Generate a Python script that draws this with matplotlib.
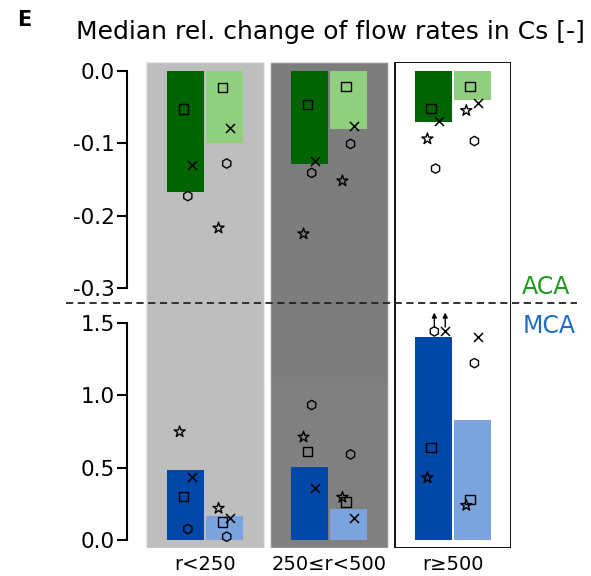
import numpy as np
import matplotlib
matplotlib.use('Agg')
import matplotlib.pyplot as plt
from matplotlib.patches import Rectangle
from matplotlib.lines import Line2D

# data
categories = ['r<250', '250≤r<500', 'r≥500']

aca_dark = [-0.167, -0.129, -0.071]
aca_light = [-0.100, -0.081, -0.040]
mca_dark = [0.481, 0.506, 1.403]
mca_light = [0.164, 0.214, 0.830]

# single markers: star, square, hexagon, cross
aca_dark_star = [np.nan, -0.225, -0.094]
aca_dark_square = [-0.053, -0.047, -0.052]
aca_dark_hex = [-0.173, -0.141, -0.135]
aca_dark_x = [-0.130, -0.124, -0.070]

aca_light_star = [-0.217, -0.152, -0.055]
aca_light_square = [-0.023, -0.022, -0.022]
aca_light_hex = [-0.128, -0.101, -0.097]
aca_light_x = [-0.079, -0.076, -0.044]

mca_dark_star = [0.747, 0.711, 0.430]
mca_dark_square = [0.301, 0.610, 0.637]
mca_dark_hex = [0.076, 0.932, np.nan]
mca_dark_x = [0.437, 0.359, np.nan]

mca_light_star = [0.219, 0.295, 0.239]
mca_light_square = [0.124, 0.262, 0.278]
mca_light_hex = [0.023, 0.591, 1.221]
mca_light_x = [0.154, 0.152, 1.403]

# off-scale markers (r>=500, MCA dark): drawn at the top with arrows
offscale_y = 1.44
offscale_markers = ['h', 'x']

c_dark_green = '#006400'
c_light_green = '#8fcf7d'
c_dark_blue = '#0047a6'
c_light_blue = '#7ba3de'
panel_colors = ['#bebebe', '#808080', 'white']

W, H = 591, 576
fig = plt.figure(figsize=(W / 100, H / 100), dpi=100)

def fx(px):
    return px / W

def fy(py):
    return 1 - py / H

left, right = 127, 511
xlim = (-0.63, 2.47)
x = np.arange(len(categories))
bw = 0.3
off = 0.157

# background panels
bg = fig.add_axes([fx(left), fy(548), fx(right) - fx(left), fy(62) - fy(548)])
bg.set_xlim(xlim)
bg.set_ylim(0, 1)
bg.axis('off')
for i, c in enumerate(panel_colors):
    if c == 'white':
        bg.add_patch(Rectangle((i - 0.47, 0), 0.94, 1, facecolor='white',
                               edgecolor='black', lw=1.3))
    else:
        bg.add_patch(Rectangle((i - 0.478, 0), 0.956, 1, facecolor=c,
                               edgecolor='#e6e6e6', lw=1.0))
# slightly darker top part of middle panel
bg.add_patch(Rectangle((1 - 0.478, (548 - 383) / (548 - 62)), 0.956,
                       (383 - 62) / (548 - 62), facecolor='black',
                       alpha=0.02, lw=0))

ax_top = fig.add_axes([fx(left), fy(303), fx(right) - fx(left), fy(62) - fy(303)])
ax_bot = fig.add_axes([fx(left), fy(548), fx(right) - fx(left), fy(303) - fy(548)])

marker_offsets = {'*': -0.048, 's': -0.018, 'h': 0.018, 'x': 0.048}

def draw_markers(ax, xpos, vals, marker):
    xs = np.asarray(xpos) + marker_offsets[marker]
    if marker == 'x':
        ax.scatter(xs, vals, marker='x', s=42, color='black', lw=1.1, zorder=5, clip_on=False)
    else:
        size = {'*': 70, 's': 46, 'h': 46}[marker]
        ax.scatter(xs, vals, marker=marker, s=size, facecolor='none',
                   edgecolor='black', lw=1.0, zorder=5, clip_on=False)

for ax in (ax_top, ax_bot):
    ax.set_facecolor('none')
    ax.set_xlim(xlim)
    for s in ['top', 'right', 'bottom']:
        ax.spines[s].set_visible(False)
    ax.spines['left'].set_linewidth(1.5)
    ax.tick_params(axis='y', length=7, width=1.5, labelsize=15.5, pad=2)

# ACA (top)
ax_top.bar(x - off, aca_dark, bw, color=c_dark_green, zorder=2)
ax_top.bar(x + off, aca_light, bw, color=c_light_green, zorder=2)
draw_markers(ax_top, x - off, aca_dark_square, 's')
draw_markers(ax_top, x - off, aca_dark_x, 'x')
draw_markers(ax_top, x - off, aca_dark_hex, 'h')
draw_markers(ax_top, x - off, aca_dark_star, '*')
draw_markers(ax_top, x + off, aca_light_square, 's')
draw_markers(ax_top, x + off, aca_light_x, 'x')
draw_markers(ax_top, x + off, aca_light_hex, 'h')
draw_markers(ax_top, x + off, aca_light_star, '*')
ax_top.set_ylim(-0.3204, 0.012)
ax_top.spines['left'].set_bounds(-0.3, 0)
ax_top.set_yticks([0.0, -0.1, -0.2, -0.3])
ax_top.set_yticklabels(['0.0', '-0.1', '-0.2', '-0.3'])
ax_top.set_xticks([])

# MCA (bottom)
ax_bot.bar(x - off, mca_dark, bw, color=c_dark_blue, zorder=2)
ax_bot.bar(x + off, mca_light, bw, color=c_light_blue, zorder=2)
draw_markers(ax_bot, x - off, mca_dark_square, 's')
draw_markers(ax_bot, x - off, mca_dark_x, 'x')
draw_markers(ax_bot, x - off, mca_dark_hex, 'h')
draw_markers(ax_bot, x - off, mca_dark_star, '*')
draw_markers(ax_bot, x + off, mca_light_square, 's')
draw_markers(ax_bot, x + off, mca_light_x, 'x')
draw_markers(ax_bot, x + off, mca_light_hex, 'h')
draw_markers(ax_bot, x + off, mca_light_star, '*')
ax_bot.set_ylim(-0.055, 1.636)
ax_bot.spines['left'].set_bounds(0, 1.5)
ax_bot.set_yticks([0.0, 0.5, 1.0, 1.5])
ax_bot.set_yticklabels(['0.0', '0.5', '1.0', '1.5'])
ax_bot.set_xticks(x)
ax_bot.set_xticklabels(categories, fontsize=14)
ax_bot.tick_params(axis='x', length=0, pad=5)

# off-scale markers with upward arrows
for m, dx in zip(offscale_markers, [0.008, 0.096]):
    xv = x[2] - off + dx
    if m == 'x':
        ax_bot.scatter([xv], [offscale_y], marker='x', s=42, color='black', lw=1.1,
                       zorder=5, clip_on=False)
    else:
        ax_bot.scatter([xv], [offscale_y], marker=m, s=46, facecolor='none',
                       edgecolor='black', lw=1.0, zorder=5, clip_on=False)
    ax_bot.annotate('', xy=(xv, offscale_y + 0.13), xytext=(xv, offscale_y + 0.03),
                    arrowprops=dict(arrowstyle='-|>', color='black', lw=1.0,
                                    mutation_scale=7, shrinkA=0, shrinkB=0),
                    annotation_clip=False)

# dashed separator and labels
fig.add_artist(Line2D([fx(66), fx(577)], [fy(303), fy(303)], color='#222222',
                      lw=1.3, ls=(0, (4, 2.5))))
fig.text(fx(546), fy(287), 'ACA', color='#1a9a1a', fontsize=17, ha='center', va='center')
fig.text(fx(549), fy(326), 'MCA', color='#1f6cc4', fontsize=17, ha='center', va='center')

fig.text(fx(76), fy(32), 'Median rel. change of flow rates in Cs [-]', fontsize=18,
         ha='left', va='center')
fig.text(fx(17), fy(20), 'E', fontsize=15, fontweight='bold', ha='left', va='center')

fig.savefig('out.png', dpi=100)
